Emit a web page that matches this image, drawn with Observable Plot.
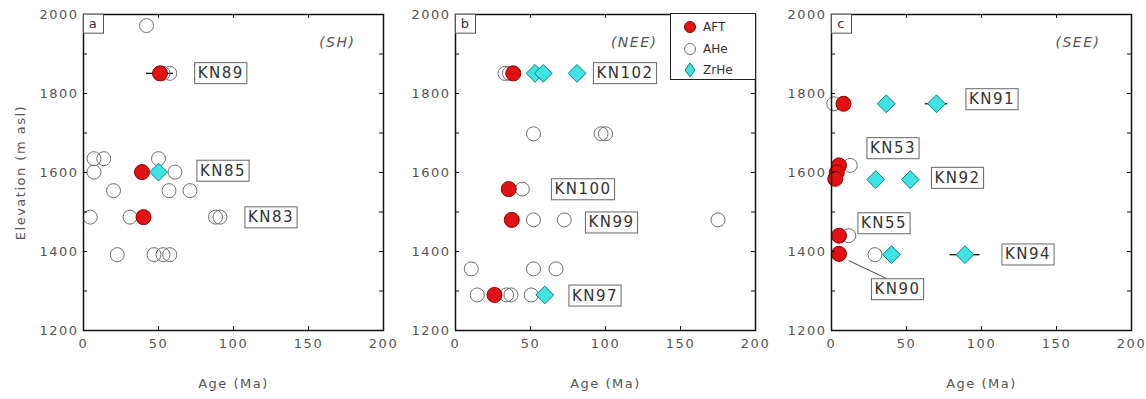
<!DOCTYPE html>
<html><head><meta charset="utf-8">
<script src="https://cdn.jsdelivr.net/npm/d3@7"></script>
<script src="https://cdn.jsdelivr.net/npm/@observablehq/plot@0.6"></script>
<style>
html,body{margin:0;padding:0;background:#fff;}
#chart{position:relative;width:1146px;height:399px;overflow:hidden;background:#fff;}
#chart svg{position:absolute;top:0;overflow:visible;}
</style></head><body><div id="chart"></div>
<script>
// ---- data ----
const panelLetters = ["a", "b", "c"];
const regionNames = ["(SH)", "(NEE)", "(SEE)"];
const ageTicks = [0, 50, 100, 150, 200];
const elevTicks = [1200, 1400, 1600, 1800, 2000];
const ageInnerTicks = [50, 100, 150];
const elevInnerTicks = [1300, 1400, 1500, 1600, 1700, 1800, 1900];
const legendNames = ["AFT", "AHe", "ZrHe"];

// panel a (SH): [age, elevation]
const aheA = [[42,1972],[53,1851],[57.5,1851],[7,1635],[13.5,1635],[50,1635],[7,1601],[61,1601],[20,1554],[57,1554],[71,1554],[4.5,1487],[31,1487],[88,1487],[91,1487],[22.5,1392],[47,1392],[53,1392],[57.5,1392]];
const aftA = [[51,1851],[39,1601],[40,1487]];
const zrA = [[50,1601]];
const errA = [[42,60,1851]];
const labA = [["KN89",91.5,1851],["KN85",93,1604],["KN83",125,1486]];

// panel b (NEE)
const aheB = [[33,1851],[36,1851],[52,1698],[97,1698],[100,1698],[44.5,1558],[52,1480],[72.5,1480],[175,1480],[10.5,1356],[52,1356],[67,1356],[14.5,1290],[34,1290],[37,1290],[50.5,1290]];
const aftB = [[38.5,1851],[35.5,1558],[37.5,1480],[26,1290]];
const zrB = [[53,1851],[58.5,1851],[81,1851],[59.5,1290]];
const errB = [];
const labB = [["KN102",113,1851],["KN100",85,1557],["KN99",104,1473],["KN97",93,1288]];

// panel c (SEE)
const aheC = [[1.5,1774],[12.5,1618],[11.5,1440],[29,1392]];
const aftC = [[8,1774],[5,1618],[3.5,1600],[2.5,1584],[5,1440],[5,1394]];
const zrC = [[36.5,1774],[70,1774],[29.5,1582],[52.5,1582],[40,1392],[89,1392]];
const errC = [[62.5,77.5,1774],[79,99,1392]];
const labC = [["KN91",107,1785],["KN53",41,1661],["KN92",84,1586],["KN55",35,1471],["KN94",131,1392],["KN90",44,1304]];
const leaderC = [[11.5,1377,37,1331]];

// ---- layout ----
const layout = [
  {left: 0,   width: 386, ml: 83, mr: 3,  regionDx: -28},
  {left: 386, width: 372, ml: 69, mr: 3,  regionDx: -98},
  {left: 758, width: 388, ml: 73, mr: 15, regionDx: -31}
];
const font = "DejaVu Sans, Verdana, sans-serif";
const AFT_FILL = "#e21212", AFT_STROKE = "#8c0000";
const ZR_FILL = "#3fe3e3", ZR_STROKE = "#0c7d86";
const AHE_STROKE = "#6e6e6e";

function panel(i, ahe, aft, zr, err, lab, leaders) {
  const L = layout[i];
  const marks = [
    Plot.link(leaders, {x1: d => d[0], y1: d => d[1], x2: d => d[2], y2: d => d[3], stroke: "#444", strokeWidth: 1}),
    Plot.ruleY(err, {y: d => d[2], x1: d => d[0], x2: d => d[1], stroke: "#111", strokeWidth: 1.3}),
    Plot.dot(ahe, {x: d => d[0], y: d => d[1], r: 7, fill: "none", stroke: AHE_STROKE, strokeWidth: 1}),
    Plot.dot(aft, {x: d => d[0], y: d => d[1], r: 7.5, fill: AFT_FILL, stroke: AFT_STROKE, strokeWidth: 1}),
    Plot.dot(zr, {x: d => d[0], y: d => d[1], r: 8, symbol: "diamond2", fill: ZR_FILL, stroke: ZR_STROKE, strokeWidth: 1}),
    Plot.frame({stroke: "#111", strokeWidth: 1.5}),
    Plot.ruleX(ageInnerTicks, {x: d => d, y1: 1200, y2: 1210, stroke: "#111"}),
    Plot.ruleX(ageInnerTicks, {x: d => d, y1: 2000, y2: 1990, stroke: "#111"}),
    Plot.ruleY(elevInnerTicks, {y: d => d, x1: 0, x2: 2.7, stroke: "#111"}),
    Plot.ruleY(elevInnerTicks, {y: d => d, x1: 200, x2: 197.3, stroke: "#111"}),
    Plot.axisX({ticks: ageTicks, tickSize: 0, tickPadding: 8, label: null, fill: "#555", tickFormat: d3.format("d")}),
    Plot.axisY({ticks: elevTicks, tickSize: 0, tickPadding: 5, label: null, fill: "#555", tickFormat: d3.format("d")}),
    Plot.text(lab, {x: d => d[1], y: d => d[2], text: d => d[0], fontSize: 15, fill: "#333", textAnchor: "middle", lineAnchor: "middle", ariaDescription: "boxed", style: "letter-spacing:0.8px"}),
    Plot.text([panelLetters[i]], {text: d => d, frameAnchor: "top-left", dx: 10, dy: 9.5, textAnchor: "middle", lineAnchor: "middle", fontSize: 13, fill: "#333", ariaDescription: "letterbox"}),
    Plot.text([regionNames[i]], {text: d => d, frameAnchor: "top-right", dx: L.regionDx, dy: 28, textAnchor: "end", lineAnchor: "middle", fontSize: 14, fontStyle: "italic", fill: "#555"}),
    Plot.text(["Age (Ma)"], {text: d => d, frameAnchor: "bottom", dy: 53, textAnchor: "middle", lineAnchor: "middle", fontSize: 13, fill: "#555"})
  ];
  if (i === 0) {
    marks.push(Plot.text(["Elevation (m asl)"], {text: d => d, frameAnchor: "left", dx: -63, rotate: -90, textAnchor: "middle", lineAnchor: "middle", fontSize: 13, fill: "#555"}));
  }
  const svg = Plot.plot({
    width: L.width,
    height: 399,
    marginLeft: L.ml,
    marginRight: L.mr,
    marginTop: 14,
    marginBottom: 69,
    inset: 0,
    x: {domain: [0, 200]},
    y: {domain: [1200, 2000]},
    style: {fontFamily: font, fontSize: "13px", letterSpacing: "1.5px", background: "transparent", overflow: "visible"},
    marks
  });
  svg.style.left = L.left + "px";
  return svg;
}

const chart = document.getElementById("chart");
chart.appendChild(panel(0, aheA, aftA, zrA, errA, labA, []));
chart.appendChild(panel(1, aheB, aftB, zrB, errB, labB, []));
chart.appendChild(panel(2, aheC, aftC, zrC, errC, labC, leaderC));

// boxes around labels
const NS = "http://www.w3.org/2000/svg";
chart.querySelectorAll('g[aria-description="boxed"] text').forEach(t => {
  const b = t.getBBox();
  const r = document.createElementNS(NS, "rect");
  r.setAttribute("x", b.x - 3); r.setAttribute("y", b.y - 1.5);
  r.setAttribute("width", b.width + 6); r.setAttribute("height", b.height + 3);
  r.setAttribute("fill", "#fff"); r.setAttribute("stroke", "#666"); r.setAttribute("stroke-width", 1);
  if (t.getAttribute("transform")) r.setAttribute("transform", t.getAttribute("transform"));
  t.parentNode.insertBefore(r, t);
});
chart.querySelectorAll('g[aria-description="letterbox"] text').forEach(t => {
  const b = t.getBBox();
  const cx = b.x + b.width / 2, cy = b.y + b.height / 2;
  const r = document.createElementNS(NS, "rect");
  r.setAttribute("x", cx - 10); r.setAttribute("y", cy - 9.5);
  r.setAttribute("width", 20); r.setAttribute("height", 19);
  r.setAttribute("fill", "#fff"); r.setAttribute("stroke", "#555"); r.setAttribute("stroke-width", 1);
  if (t.getAttribute("transform")) r.setAttribute("transform", t.getAttribute("transform"));
  t.parentNode.insertBefore(r, t);
});

// legend in panel b
const leg = d3.create("svg").attr("width", 86).attr("height", 67)
  .style("left", "670px").style("top", "13px")
  .style("font-family", font).style("font-size", "12px");
leg.append("rect").attr("x", 0.5).attr("y", 0.5).attr("width", 85).attr("height", 66)
  .attr("fill", "#fff").attr("stroke", "#222");
const rowY = [14, 36, 57];
leg.append("circle").attr("cx", 20).attr("cy", rowY[0]).attr("r", 5.5).attr("fill", AFT_FILL).attr("stroke", AFT_STROKE);
leg.append("circle").attr("cx", 20).attr("cy", rowY[1]).attr("r", 5.5).attr("fill", "none").attr("stroke", AHE_STROKE);
leg.append("path").attr("transform", `translate(20,${rowY[2]})`).attr("d", "M0,-7L5,0L0,7L-5,0Z").attr("fill", ZR_FILL).attr("stroke", ZR_STROKE);
legendNames.forEach((n, k) => {
  leg.append("text").attr("x", 33).attr("y", rowY[k]).attr("dy", "0.35em").attr("fill", "#333").text(n);
});
chart.appendChild(leg.node());
</script></body></html>
